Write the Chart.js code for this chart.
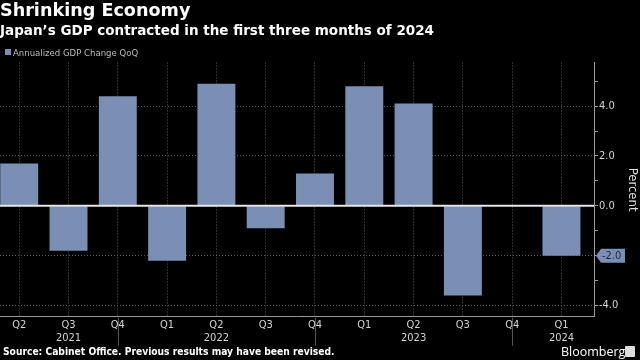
<!DOCTYPE html>
<html><head><meta charset="utf-8">
<script src="https://cdn.jsdelivr.net/npm/chart.js@4"></script>
<style>
html,body{margin:0;padding:0;background:#000;width:640px;height:360px;overflow:hidden;}
#c{position:absolute;left:0;top:0;}
.t{position:absolute;white-space:nowrap;color:#fff;}
#title{left:0;top:0px;font:bold 17.6px "DejaVu Sans";line-height:21px;}
#sub{left:0;top:22px;font:bold 13.5px "DejaVu Sans";line-height:16px;}
#leg{left:5px;top:46px;font:9.5px "DejaVu Sans Condensed","Liberation Sans Narrow","Open Sans";color:#bbb;line-height:14px;}
#leg span{display:inline-block;width:6px;height:6px;background:#7a8fb3;margin-right:2px;vertical-align:1px;}
#src{left:3px;top:345px;font:bold 10.2px "DejaVu Sans Condensed","Liberation Sans Narrow";line-height:13px;color:#fff;}
#bb{left:561px;top:344px;font:12.5px "Open Sans";line-height:16px;color:#fff;}
#logo{position:absolute;left:625px;top:346px;width:10px;height:11px;background:#ddd;border-radius:1px;}
</style></head>
<body>
<canvas id="c" width="640" height="360"></canvas>
<div class="t" id="title">Shrinking Economy</div>
<div class="t" id="sub">Japan’s GDP contracted in the first three months of 2024</div>
<div class="t" id="leg"><span></span>Annualized GDP Change QoQ</div>
<div class="t" id="src">Source: Cabinet Office. Previous results may have been revised.</div>
<div class="t" id="bb">Bloomberg</div>
<div id="logo"></div>
<script>
const quarters = ['Q2','Q3','Q4','Q1','Q2','Q3','Q4','Q1','Q2','Q3','Q4','Q1'];
const years    = ['','2021','','','2022','','','','2023','','','2024'];
const gdpChange = [1.7,-1.8,4.4,-2.2,4.9,-0.9,1.3,4.8,4.1,-3.6,0.0,-2.0];
const yTicks = [-4,-3,-2,-1,0,1,2,3,4,5];
const seriesName = 'Annualized GDP Change QoQ';

const barColor = '#7a8fb3';
const gridColor = '#5a5a5a';
const axisColor = '#9a9a9a';
const labelFont = {family:'"DejaVu Sans Condensed","Liberation Sans Narrow","Open Sans"', size:11};

const extras = {
  id:'extras',
  afterDatasetsDraw(chart){
    const {ctx, chartArea:a, scales:{x,y}} = chart;
    const y0 = y.getPixelForValue(0);
    ctx.save();
    ctx.strokeStyle = '#e6e6e6'; ctx.lineWidth = 2;
    ctx.beginPath(); ctx.moveTo(a.left, y0); ctx.lineTo(a.right, y0); ctx.stroke();
    ctx.restore();
  },
  afterDraw(chart){
    const {ctx, chartArea:a, scales:{x,y}} = chart;
    ctx.save();
    ctx.strokeStyle = '#555'; ctx.lineWidth = 1;
    quarters.forEach((q,i)=>{
      if(q==='Q4'){
        const px = Math.round(x.getPixelForValue(i))+0.5;
        ctx.beginPath(); ctx.moveTo(px, a.bottom+1); ctx.lineTo(px, a.bottom+29); ctx.stroke();
      }
    });
    const last = gdpChange[gdpChange.length-1];
    const py = y.getPixelForValue(last);
    const x0 = a.right + 2;
    ctx.fillStyle = barColor;
    ctx.beginPath();
    ctx.moveTo(x0, py);
    ctx.lineTo(x0+5, py-7);
    ctx.lineTo(x0+29, py-7);
    ctx.lineTo(x0+29, py+7);
    ctx.lineTo(x0+5, py+7);
    ctx.closePath(); ctx.fill();
    ctx.fillStyle = '#18264a';
    ctx.font = '11px ' + labelFont.family;
    ctx.textBaseline = 'middle'; ctx.textAlign = 'left';
    ctx.fillText(last.toFixed(1), x0+6, py+0.5);
    ctx.restore();
  }
};

new Chart(document.getElementById('c'), {
  type:'bar',
  data:{
    datasets:[{
      label: seriesName,
      data: gdpChange.map((v,i)=>({x:i, y:v})),
      backgroundColor: barColor,
      borderWidth:0,
      barPercentage:0.77,
      categoryPercentage:1
    }]
  },
  options:{
    responsive:false, animation:false, devicePixelRatio:1,
    layout:{padding:{top:62.5,left:0,right:0,bottom:0}},
    plugins:{legend:{display:false}, tooltip:{enabled:false}},
    scales:{
      x:{
        type:'linear', min:-0.39, max:11.66, offset:false,
        afterBuildTicks: s => { s.ticks = quarters.map((_,i)=>({value:i})); },
        afterFit: s => { s.height = 43.3; s.paddingLeft = 0; s.paddingRight = 0; },
        ticks:{
          autoSkip:false, maxRotation:0, padding:2, color:'#d4d4d4', font:labelFont,
          callback: v => [quarters[v], years[v]]
        },
        grid:{color:gridColor, drawTicks:false, lineWidth:1, offset:false},
        border:{display:true, color:axisColor, width:1, dash:[1,2]}
      },
      y:{
        position:'right', min:-4.45, max:5.75,
        afterBuildTicks: s => { s.ticks = yTicks.map(v=>({value:v})); },
        afterFit: s => { s.width = 46; s.paddingTop = 0; s.paddingBottom = 0; },
        ticks:{
          padding:1, color:'#d4d4d4', font:labelFont,
          callback: v => (v % 2 === 0) ? v.toFixed(1) : ''
        },
        grid:{
          color: c => (c.tick && c.tick.value % 2 === 0 && c.tick.value !== 0) ? gridColor : 'rgba(0,0,0,0)',
          tickColor: axisColor, tickLength:4, drawTicks:true
        },
        border:{display:true, color:axisColor, width:1, dash:[1,2]},
        title:{display:true, text:'Percent', color:'#dddddd', font:{family:'"DejaVu Sans Condensed","Open Sans"', size:13}, padding:{top:0,bottom:0}}
      }
    }
  },
  plugins:[extras]
});
</script>
</body></html>
